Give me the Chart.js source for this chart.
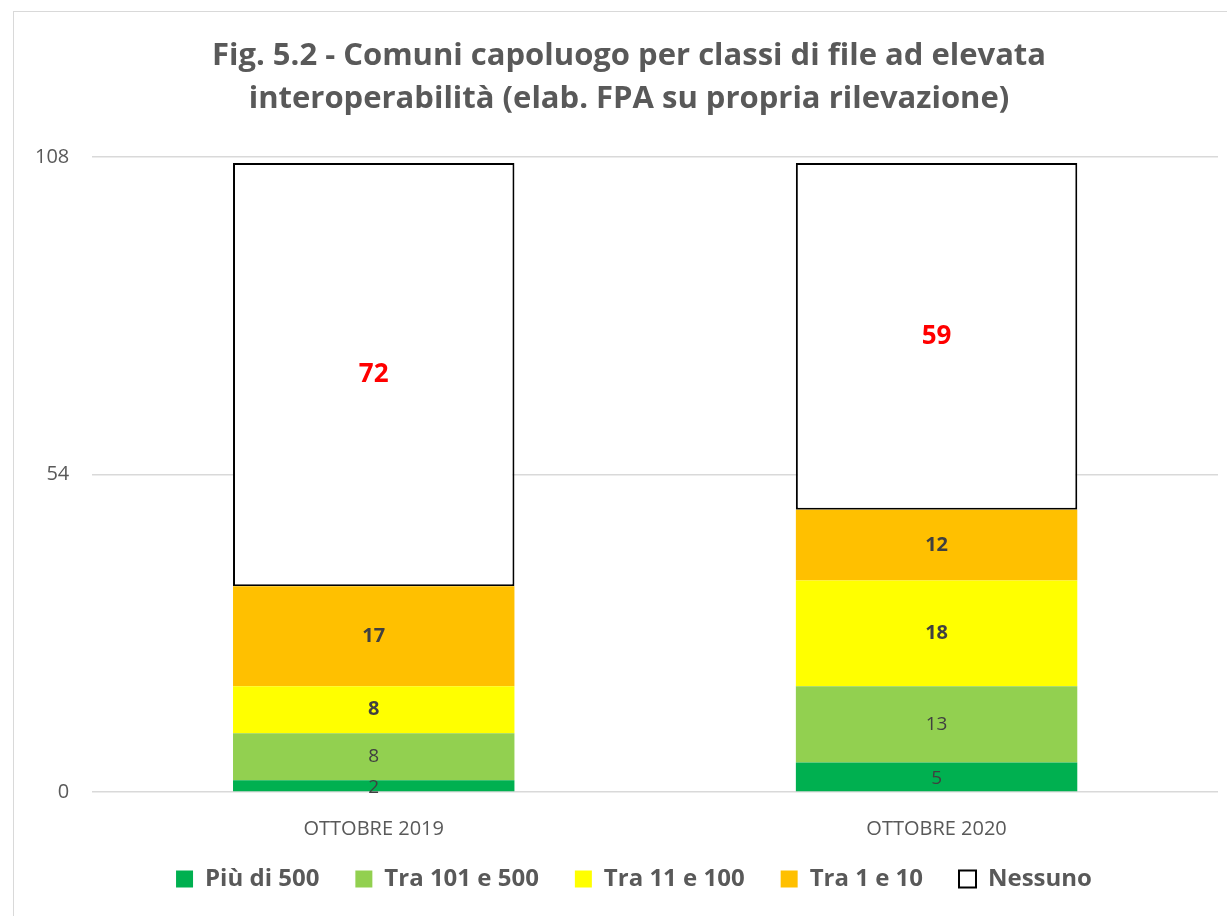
<!DOCTYPE html>
<html>
<head>
<meta charset="utf-8">
<script src="https://cdn.jsdelivr.net/npm/chart.js@4"></script>
<style>
  html, body { margin: 0; padding: 0; background: #fff; overflow: hidden; }
  #wrap { position: relative; width: 1227px; height: 916px; }
  #frame { position: absolute; left: 13px; top: 11px; width: 1300px; height: 1000px; border: 1.5px solid #d9d9d9; }
  #chart { position: absolute; left: 0; top: 0; }
</style>
</head>
<body>
<div id="wrap">
  <div id="frame"></div>
  <canvas id="chart" width="1227" height="916"></canvas>
</div>
<script>
// Data
const categories = ['OTTOBRE 2019', 'OTTOBRE 2020'];
const seriesNames = ['Più di 500', 'Tra 101 e 500', 'Tra 11 e 100', 'Tra 1 e 10', 'Nessuno'];
const piuDi500 = [2, 5];
const tra101e500 = [8, 13];
const tra11e100 = [8, 18];
const tra1e10 = [17, 12];
const nessuno = [72, 59];
const yTicks = [0, 54, 108];

const FONT = '"Open Sans", Lato, sans-serif';
const GREY = '#595959';

// value labels drawn in the middle of each segment
const segmentLabels = {
    id: 'segmentLabels',
    afterDatasetsDraw(chart){
        const ctx = chart.ctx;
        chart.data.datasets.forEach((ds, i) => {
            const meta = chart.getDatasetMeta(i);
            const lbl = ds.valueLabel;
            meta.data.forEach((el, j) => {
                ctx.save();
                ctx.font = lbl.font;
                ctx.fillStyle = lbl.color;
                ctx.textAlign = 'center';
                ctx.textBaseline = 'middle';
                ctx.fillText(ds.data[j], el.x, (el.y + el.base) / 2 + (lbl.dy || 0));
                ctx.restore();
            });
        });
    }
};

// title and legend sit a bit right of the canvas centre in the original,
// and the legend is tucked closer to the axis labels
const nudgeBoxes = {
    id: 'nudgeBoxes',
    afterLayout(chart){
        const lg = chart.legend;
        lg.left += 19; lg.right += 19;
        lg.top -= 9; lg.bottom -= 9;
        const tb = chart.titleBlock;
        tb.left += 14; tb.right += 14;
    }
};

const ctx = document.getElementById('chart').getContext('2d');
new Chart(ctx, {
    type: 'bar',
    data: {
        labels: categories,
        datasets: [
            { label: seriesNames[0], data: piuDi500, backgroundColor: '#00b050', borderWidth: 0,
              valueLabel: { font: '19px ' + FONT, color: '#404040', dy: 2 } },
            { label: seriesNames[1], data: tra101e500, backgroundColor: '#92d050', borderWidth: 0,
              valueLabel: { font: '19px ' + FONT, color: '#404040' } },
            { label: seriesNames[2], data: tra11e100, backgroundColor: '#ffff00', borderWidth: 0,
              valueLabel: { font: 'bold 20px ' + FONT, color: '#404040' } },
            { label: seriesNames[3], data: tra1e10, backgroundColor: '#ffc000', borderWidth: 0,
              valueLabel: { font: 'bold 20px ' + FONT, color: '#404040' } },
            { label: seriesNames[4], data: nessuno, backgroundColor: '#ffffff', borderColor: '#000000',
              borderWidth: 2, borderSkipped: false,
              valueLabel: { font: 'bold 26px ' + FONT, color: '#ff0000' } }
        ]
    },
    options: {
        responsive: false,
        animation: false,
        layout: { padding: { left: 12, right: 9, top: 0, bottom: 6 } },
        datasets: { bar: { categoryPercentage: 1, barPercentage: 0.5 } },
        scales: {
            x: {
                stacked: true,
                grid: { display: false },
                border: { display: false },
                ticks: { color: GREY, font: { family: FONT, size: 20 }, padding: 17 },
                afterFit(scale){ scale.height = 48; }
            },
            y: {
                stacked: true,
                min: 0,
                max: 108,
                afterBuildTicks(scale){ scale.ticks = yTicks.map(v => ({ value: v })); },
                grid: { color: '#d9d9d9', lineWidth: 1.5, drawTicks: false },
                border: { display: false },
                ticks: { color: GREY, font: { family: FONT, size: 20 }, padding: 23 }
            }
        },
        plugins: {
            title: {
                display: true,
                text: ['Fig. 5.2 - Comuni capoluogo per classi di file ad elevata',
                       'interoperabilità (elab. FPA su propria rilevazione)'],
                color: GREY,
                font: { family: FONT, size: 31, weight: 'bold', lineHeight: 1.39 },
                padding: { top: 35, bottom: 36 }
            },
            legend: {
                position: 'bottom',
                labels: {
                    color: GREY,
                    font: { family: FONT, size: 24, weight: 'bold' },
                    boxWidth: 17,
                    boxHeight: 17,
                    padding: 36,
                    generateLabels(chart){
                        return chart.data.datasets.map((ds, i) => ({
                            text: ds.label,
                            fillStyle: ds.backgroundColor,
                            strokeStyle: i === 4 ? '#000000' : ds.backgroundColor,
                            lineWidth: i === 4 ? 2 : 0,
                            fontColor: GREY,
                            datasetIndex: i
                        }));
                    }
                }
            },
            tooltip: { enabled: false }
        }
    },
    plugins: [segmentLabels, nudgeBoxes]
});
</script>
</body>
</html>
